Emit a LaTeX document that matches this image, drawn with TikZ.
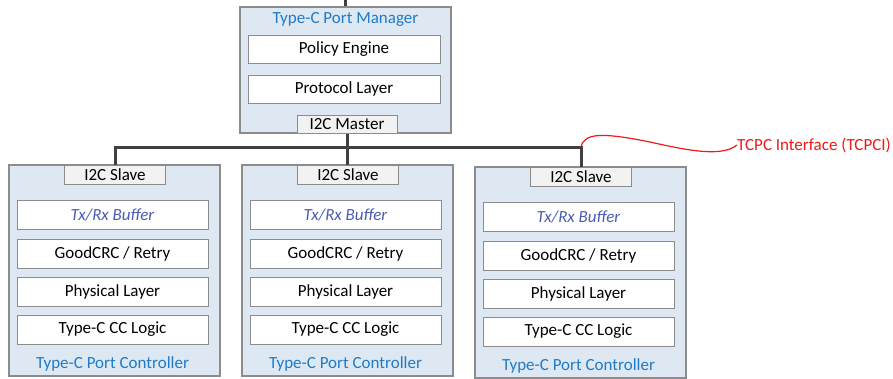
\documentclass[tikz,border=0pt]{standalone}
\usepackage{fontspec}
\setmainfont{Carlito}
\definecolor{titleblue}{HTML}{1F7BC8}
\definecolor{boxfill}{HTML}{DEE8F2}
\definecolor{boxline}{HTML}{8C8C8C}
\definecolor{slavefill}{HTML}{F2F2F2}
\definecolor{italblue}{HTML}{4A5DB5}
\definecolor{busgray}{HTML}{404040}
\definecolor{tcpcred}{HTML}{F01818}
\begin{document}
\begin{tikzpicture}[x=1pt,y=-1pt,
  txt/.style={font=\fontsize{17}{19}\selectfont},
  outer/.style={draw=boxline,fill=boxfill,line width=1.1pt,minimum width=211pt,minimum height=211pt,inner sep=0pt},
  layer/.style={draw=boxline,fill=white,line width=1pt,minimum width=191pt,minimum height=29pt,inner sep=0pt,txt},
  port/.style={draw=boxline,fill=slavefill,line width=1pt,minimum width=101pt,minimum height=19pt,inner sep=0pt,txt},
  caption/.style={text=titleblue,txt,inner sep=0pt},
  bus/.style={draw=busgray,line width=3pt},
  callout/.style={draw=tcpcred,line width=1.2pt}]
\useasboundingbox (0,0) rectangle (893,378);
% Port manager
\node[outer,minimum height=126pt] (mgr) at (345.5,70) {};
\node[caption] (mgrt) at (345.5,19) {Type-C Port Manager};
\node[layer,minimum width=192pt,minimum height=28pt] (pe) at (344,49) {Policy Engine};
\node[layer,minimum width=192pt,minimum height=28pt] (pl) at (344,89) {Protocol Layer};
\node[port,minimum width=100pt,minimum height=18pt] (master) at (347,124) {I2C Master};
\coordinate (top) at (mgr.north |- 0,0);
\draw[busgray,line width=2.5pt] (top) -- (mgr.north);
% Port controllers
\foreach \i/\xo/\yo in {1/9/165,2/242/165,3/475/167}{
  \node[outer] (c\i) at (\xo+105.5,\yo+105.5) {};
  \node[port] (s\i) at (\xo+106,\yo+9.5) {I2C Slave};
  \node[layer,text=italblue,font=\fontsize{17}{19}\selectfont\itshape] (tx\i) at (\xo+103.5,\yo+49.5) {Tx/Rx Buffer};
  \node[layer] (gc\i) at (\xo+103.5,\yo+88.5) {GoodCRC / Retry};
  \node[layer] (ph\i) at (\xo+103.5,\yo+126.5) {Physical Layer};
  \node[layer] (cc\i) at (\xo+103.5,\yo+164.5) {Type-C CC Logic};
  \node[caption] (cap\i) at (\xo+103.5,\yo+199) {Type-C Port Controller};
}
% bus
\coordinate (busL) at (s1.north |- 0,147);
\coordinate (busR) at (s3.north |- 0,147);
\draw[bus] (s1.north) -- (busL) -- (busR) -- (s3.north);
\draw[bus] (master.south) -- (master.south |- s2.north);
% callout
\node[text=tcpcred,txt,anchor=west,inner sep=0pt] (tcpci) at (737,145) {TCPC Interface (TCPCI)};
\draw[callout] (busR) .. controls (584,132) and (605,133) .. (650,142)
  .. controls (690,151) and (722,157) .. (tcpci.west);
\end{tikzpicture}
\end{document}
